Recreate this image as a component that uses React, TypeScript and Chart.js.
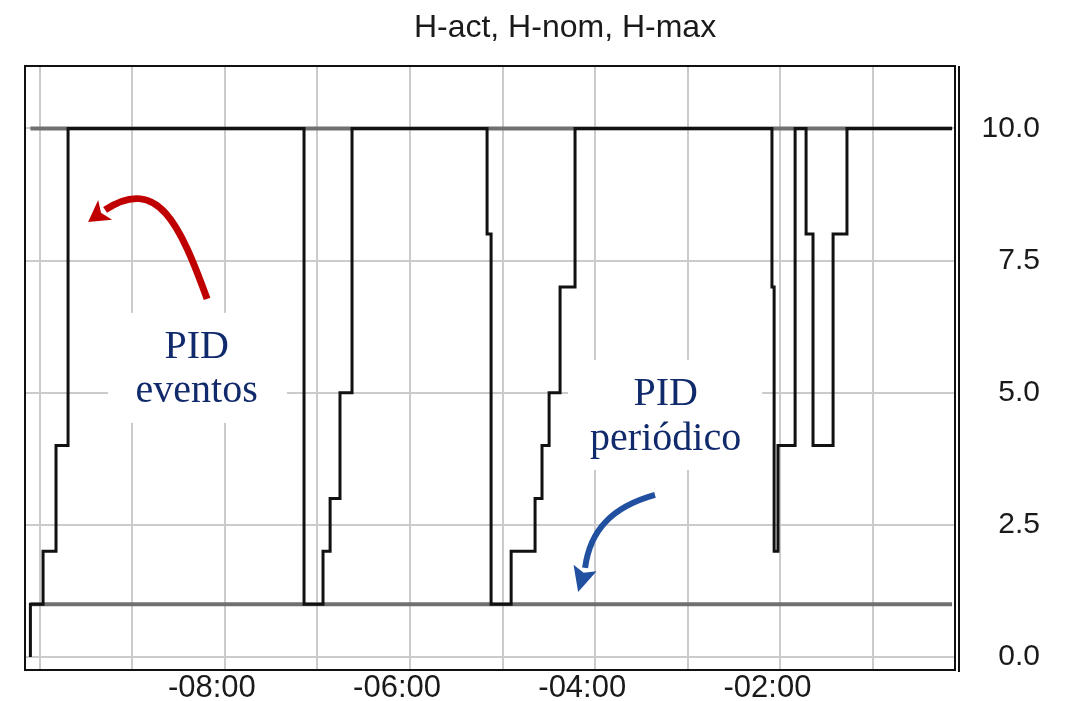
import React, { useEffect, useRef } from 'react';
import { Chart, registerables } from 'chart.js';

Chart.register(...registerables);

const TITLE = 'H-act, H-nom, H-max';

// H-act: time in seconds (relative to now) at which each level starts, and the level
const actTimes = [-606, -606, -597.8, -589.4, -581.6, -428.7, -416.4, -411.8, -405.4, -397.6, -310.1, -307.5, -294.5, -279.0, -274.5, -269.9, -262.8, -253.1, -125.5, -124.1, -121.6, -110.5, -103.4, -98.9, -85.9, -76.9, -8.8];
const actValues = [0, 1, 2, 4, 10, 1, 2, 3, 5, 10, 8, 1, 2, 3, 4, 5, 7, 10, 7, 2, 4, 10, 8, 4, 8, 10, 10];

// H-max and H-nom (constant references)
const refTimes = [-606, -8.8];
const hMaxValues = [10, 10];
const hNomValues = [1, 1];

// x grid (every minute) and labelled ticks (seconds) with their labels
const xGridValues = [-600, -540, -480, -420, -360, -300, -240, -180, -120, -60];
const xLabelValues = [-480, -360, -240, -120];
const xTickLabels = ['-08:00', '-06:00', '-04:00', '-02:00'];
const yTickValues = [0, 2.5, 5, 7.5, 10];

// annotation texts
const noteEventos = ['PID', 'eventos'];
const notePeriodico = ['PID', 'periódico'];

const SANS = '"Liberation Sans", Arial, sans-serif';
const SERIF = '"Liberation Serif", "Times New Roman", serif';

function drawArrow(ctx: CanvasRenderingContext2D, p: number[][], color: string, width: number) {
  const [p0, c1, c2, p3, tip] = p;
  ctx.save();
  ctx.strokeStyle = color;
  ctx.fillStyle = color;
  ctx.lineWidth = width;
  ctx.lineCap = 'butt';
  ctx.beginPath();
  ctx.moveTo(p0[0], p0[1]);
  ctx.bezierCurveTo(c1[0], c1[1], c2[0], c2[1], p3[0], p3[1]);
  ctx.stroke();
  const dx = tip[0] - p3[0];
  const dy = tip[1] - p3[1];
  const len = Math.hypot(dx, dy);
  const ux = dx / len, uy = dy / len;
  const nx = -uy, ny = ux;
  const W = 12;
  ctx.beginPath();
  ctx.moveTo(tip[0], tip[1]);
  ctx.lineTo(p3[0] + nx * W, p3[1] + ny * W);
  ctx.lineTo(p3[0] + ux * 5, p3[1] + uy * 5);
  ctx.lineTo(p3[0] - nx * W, p3[1] - ny * W);
  ctx.closePath();
  ctx.fill();
  ctx.restore();
}

const annotationPlugin = {
  id: 'annotations',
  beforeDatasetsDraw(chart: any) {
    const { ctx, scales } = chart;
    const X = (v: number) => scales.x.getPixelForValue(v);
    const Y = (v: number) => scales.y.getPixelForValue(v);
    ctx.save();
    ctx.fillStyle = '#ffffff';
    const boxes = [
      [-555.7, -439.7, 6.51, 4.43],
      [-257.6, -131.9, 5.62, 3.54],
    ];
    boxes.forEach(([s1, s2, v1, v2]) => {
      ctx.fillRect(X(s1), Y(v1), X(s2) - X(s1), Y(v2) - Y(v1));
    });
    ctx.restore();
  },
  afterDatasetsDraw(chart: any) {
    const { ctx, scales } = chart;
    const X = (v: number) => scales.x.getPixelForValue(v);
    const Y = (v: number) => scales.y.getPixelForValue(v);
    ctx.save();
    ctx.fillStyle = '#102a6b';
    ctx.font = `40px ${SERIF}`;
    ctx.textAlign = 'center';
    ctx.textBaseline = 'alphabetic';
    ctx.fillText(noteEventos[0], X(-498.3), Y(5.66));
    ctx.fillText(noteEventos[1], X(-498.3), Y(4.825));
    ctx.fillText(notePeriodico[0], X(-194.4), Y(4.768));
    ctx.fillText(notePeriodico[1], X(-194.4), Y(3.917));
    ctx.restore();

    const red = [[-491.5, 6.774], [-509.0, 8.174], [-523.3, 9.12], [-557.6, 8.458], [-568.6, 8.231]].map(([s, v]) => [X(s), Y(v)]);
    drawArrow(ctx, red, '#c00000', 7);
    const blue = [[-201.3, 3.065], [-229.1, 2.838], [-243.4, 2.403], [-246.6, 1.684], [-251.1, 1.23]].map(([s, v]) => [X(s), Y(v)]);
    drawArrow(ctx, blue, '#2150a0', 6);
  },
  afterDraw(chart: any) {
    const { ctx, chartArea } = chart;
    ctx.save();
    ctx.strokeStyle = '#111111';
    ctx.lineWidth = 2;
    ctx.strokeRect(chartArea.left, chartArea.top, chartArea.right - chartArea.left, chartArea.bottom - chartArea.top);
    ctx.beginPath();
    ctx.moveTo(chartArea.right + 4, chartArea.top);
    ctx.lineTo(chartArea.right + 4, chartArea.bottom + 2);
    ctx.stroke();
    ctx.fillStyle = '#1a1a1a';
    ctx.font = `32px ${SANS}`;
    ctx.textAlign = 'center';
    ctx.textBaseline = 'alphabetic';
    ctx.fillText(TITLE, 565, 37);
    ctx.restore();
  },
};

export default function App() {
  const ref = useRef<HTMLCanvasElement | null>(null);
  useEffect(() => {
    if (!ref.current) return;
    const chart = new Chart(ref.current, {
      type: 'line',
      data: {
        datasets: [
          {
            label: 'H-act',
            data: actTimes.map((t, i) => ({ x: t, y: actValues[i] })),
            stepped: 'before',
            borderColor: '#111111',
            borderWidth: 3,
            pointRadius: 0,
            fill: false,
          },
          {
            label: 'H-max',
            data: refTimes.map((t, i) => ({ x: t, y: hMaxValues[i] })),
            borderColor: '#707070',
            borderWidth: 4,
            pointRadius: 0,
            fill: false,
          },
          {
            label: 'H-nom',
            data: refTimes.map((t, i) => ({ x: t, y: hNomValues[i] })),
            borderColor: '#707070',
            borderWidth: 4,
            pointRadius: 0,
            fill: false,
          },
        ],
      },
      options: {
        animation: false,
        responsive: true,
        maintainAspectRatio: false,
        layout: { padding: { left: 25, top: 66, right: 29, bottom: 0 } },
        plugins: { legend: { display: false }, tooltip: { enabled: false }, title: { display: false } },
        scales: {
          x: {
            type: 'linear',
            min: -609.5,
            max: -6.9,
            afterFit: (s: any) => { s.height = 31; },
            afterBuildTicks: (s: any) => { s.ticks = xGridValues.map((v) => ({ value: v })); },
            ticks: {
              autoSkip: false,
              maxRotation: 0,
              padding: 0,
              labelOffset: -13,
              color: '#1a1a1a',
              font: { family: SANS, size: 31 },
              callback: (v: any) => {
                const i = xLabelValues.indexOf(Number(v));
                return i >= 0 ? xTickLabels[i] : '';
              },
            },
            grid: { color: '#cbcbcb', lineWidth: 2, drawTicks: false },
            border: { display: false },
          },
          y: {
            position: 'right',
            min: -0.246,
            max: 11.18,
            afterFit: (s: any) => { s.width = 85; },
            afterBuildTicks: (s: any) => { s.ticks = yTickValues.map((v) => ({ value: v })); },
            ticks: {
              crossAlign: 'far',
              padding: 10,
              color: '#1a1a1a',
              font: { family: SANS, size: 30 },
              callback: (v: any) => Number(v).toFixed(1),
            },
            grid: { color: '#cbcbcb', lineWidth: 2, drawTicks: false },
            border: { display: false },
          },
        },
      } as any,
      plugins: [annotationPlugin],
    });
    return () => chart.destroy();
  }, []);
  return (
    <div style={{ position: 'fixed', left: 0, top: 0, width: 1069, height: 701, background: '#fff' }}>
      <canvas ref={ref} />
    </div>
  );
}
